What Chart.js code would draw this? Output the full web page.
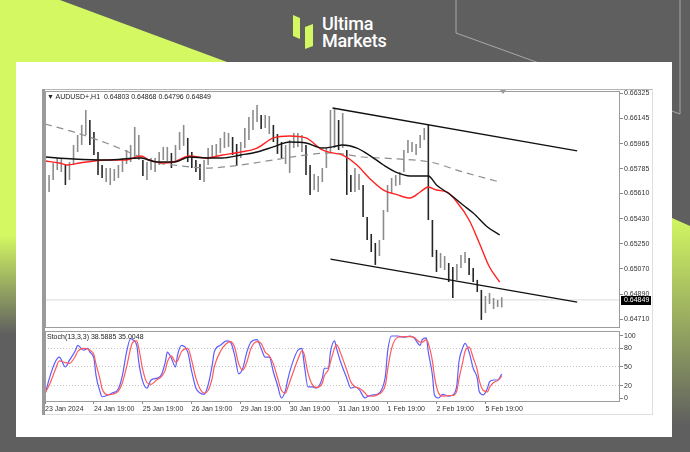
<!DOCTYPE html>
<html>
<head>
<meta charset="utf-8">
<script src="https://cdn.jsdelivr.net/npm/chart.js@4.4.1/dist/chart.umd.min.js"></script>
<style>
html, body { margin: 0; padding: 0; }
body { width: 690px; height: 452px; position: relative; overflow: hidden; background: #5f5f5f; font-family: "Liberation Sans", Arial, sans-serif; }
#bg { position: absolute; left: 0; top: 0; }
#card { position: absolute; left: 16px; top: 62px; width: 656px; height: 375px; background: #fff; }
.logo { position: absolute; left: 322px; color: #fff; font-family: Roboto, "Open Sans", sans-serif; font-weight: 500; font-size: 18px; line-height: 18px; letter-spacing: -0.2px; }
#mtframe { position: absolute; left: 42px; top: 89px; width: 611px; height: 326px; border: 1px solid #dedede; border-top-color: #b5b5b5; box-sizing: border-box; }
#mtleft { position: absolute; left: 42px; top: 89px; width: 3px; height: 326px; background: #9a9a9a; }
canvas { position: absolute; }
#main { left: 45px; top: 84px; }
#stoch { left: 45px; top: 331px; }
.hdr { position: absolute; left: 47px; font-size: 7px; line-height: 8px; color: #222; white-space: pre; }
#shift { position: absolute; left: 500px; top: 90px; width: 0; height: 0; border-left: 3px solid transparent; border-right: 3px solid transparent; border-top: 4px solid #9a9a9a; }
</style>
</head>
<body>
<svg id="bg" width="690" height="452">
  <defs>
    <linearGradient id="gl" gradientUnits="userSpaceOnUse" x1="0" y1="0" x2="0" y2="452">
      <stop offset="0.52" stop-color="#d3f862"/>
      <stop offset="0.74" stop-color="#5f5f5f"/>
    </linearGradient>
    <linearGradient id="gr" gradientUnits="userSpaceOnUse" x1="0" y1="215" x2="0" y2="425">
      <stop offset="0" stop-color="#d3f862"/>
      <stop offset="1" stop-color="#5f5f5f"/>
    </linearGradient>
  </defs>
  <polygon points="0,0 60,0 300,89 300,452 0,452" fill="url(#gl)"/>
  <polygon points="600,186 690,226 690,452 600,452" fill="url(#gr)"/>
  <polyline points="456,0 456,33 680,114 680,0" fill="none" stroke="#a9a9a9" stroke-width="1"/>
  <polygon points="293,15 300,18 300,39 293,36" fill="#d3f862"/>
  <polygon points="305,27 313,24 313,46 305,49" fill="#d3f862"/>
</svg>
<div class="logo" style="top:15px">Ultima</div>
<div class="logo" style="top:32px">Markets</div>
<div id="card"></div>
<div id="mtframe"></div>
<div id="mtleft"></div>
<canvas id="main" width="620" height="244"></canvas>
<canvas id="stoch" width="620" height="84"></canvas>
<div class="hdr" style="top:93px">▼ AUDUSD+,H1  0.64803 0.64868 0.64796 0.64849</div>
<div class="hdr" style="top:333px">Stoch(13,3,3) 38.5885 35.0048</div>
<div id="shift"></div>
<script>
// H1 bars, one sample every 2 bars (bar index = i * barStep)
const barStep = 2;
const barHighs = [
  0.65649, 0.65741, 0.65827, 0.65863, 0.65863, 0.65813, 0.65834, 0.65956, 0.66027, 0.66099,
  0.66206, 0.66134, 0.66049, 0.65906, 0.65813, 0.65791, 0.65791, 0.65784, 0.65813, 0.65863,
  0.65920, 0.65956, 0.66084, 0.66027, 0.65849, 0.65834, 0.65863, 0.65863, 0.65906, 0.65942,
  0.65942, 0.65899, 0.65956, 0.66049, 0.66099, 0.66006, 0.65906, 0.65849, 0.65820, 0.65849,
  0.65934, 0.65956, 0.65963, 0.66006, 0.66049, 0.66042, 0.66013, 0.65963, 0.65977, 0.66077,
  0.66156, 0.66206, 0.66241, 0.66170, 0.66170, 0.66163, 0.66099, 0.66034, 0.65977, 0.65956,
  0.65992, 0.66042, 0.66042, 0.66027, 0.65956, 0.65813, 0.65749, 0.65734, 0.65791, 0.65934,
  0.66206, 0.66220, 0.66134, 0.66184, 0.65920, 0.65741, 0.65791, 0.65749, 0.65670, 0.65442,
  0.65320, 0.65256, 0.65277, 0.65491, 0.65670, 0.65720, 0.65741, 0.65763, 0.65920, 0.65992,
  0.65977, 0.65963, 0.66027, 0.66077, 0.66099, 0.65420, 0.65206, 0.65184, 0.65163, 0.65113,
  0.65084, 0.65106, 0.65170, 0.65191, 0.65149, 0.65077, 0.64992, 0.64920, 0.64877, 0.64899,
  0.64863, 0.64849, 0.64868
];
const barLows = [
  0.65506, 0.65620, 0.65706, 0.65777, 0.65763, 0.65670, 0.65706, 0.65813, 0.65906, 0.65956,
  0.66027, 0.65956, 0.65884, 0.65741, 0.65720, 0.65691, 0.65670, 0.65699, 0.65720, 0.65763,
  0.65820, 0.65834, 0.65863, 0.65849, 0.65734, 0.65706, 0.65777, 0.65763, 0.65813, 0.65849,
  0.65842, 0.65791, 0.65834, 0.65920, 0.65949, 0.65834, 0.65791, 0.65763, 0.65706, 0.65691,
  0.65813, 0.65863, 0.65870, 0.65899, 0.65934, 0.65942, 0.65884, 0.65806, 0.65863, 0.65934,
  0.65992, 0.66063, 0.66120, 0.66070, 0.66077, 0.66034, 0.65977, 0.65892, 0.65863, 0.65820,
  0.65756, 0.65934, 0.65942, 0.65906, 0.65741, 0.65599, 0.65634, 0.65620, 0.65691, 0.65791,
  0.65906, 0.65934, 0.65920, 0.65934, 0.65599, 0.65620, 0.65620, 0.65634, 0.65442, 0.65277,
  0.65191, 0.65099, 0.65163, 0.65277, 0.65477, 0.65613, 0.65663, 0.65670, 0.65763, 0.65899,
  0.65906, 0.65884, 0.65934, 0.65992, 0.65420, 0.65156, 0.65049, 0.65077, 0.65063, 0.64977,
  0.64863, 0.64992, 0.65077, 0.65113, 0.65027, 0.64977, 0.64906, 0.64706, 0.64756, 0.64820,
  0.64784, 0.64799, 0.64796
];
const lastClose = 0.64849;

// moving averages (bar index, price)
const maRedBars = [0, 7, 11, 17, 30, 40, 47, 51, 58, 63, 71, 79, 87, 96, 104, 112, 120, 128, 136, 141, 146, 153, 159, 166, 173, 179, 184, 188, 192, 197, 202, 208, 213, 218, 223];
const maRed = [0.65841, 0.65827, 0.65813, 0.65827, 0.65849, 0.65849, 0.65877, 0.65849, 0.65827, 0.65834, 0.65877, 0.65863, 0.65884, 0.65906, 0.65934, 0.66006, 0.66020, 0.66006, 0.65920, 0.65899, 0.65884, 0.65813, 0.65720, 0.65634, 0.65599, 0.65577, 0.65620, 0.65656, 0.65634, 0.65620, 0.65549, 0.65420, 0.65256, 0.65084, 0.64977];
const maBlackBars = [0, 14, 30, 47, 55, 63, 71, 79, 87, 96, 104, 112, 120, 128, 136, 141, 146, 153, 159, 166, 173, 179, 188, 192, 199, 205, 210, 217, 223];
const maBlack = [0.65870, 0.65856, 0.65849, 0.65863, 0.65834, 0.65834, 0.65870, 0.65863, 0.65863, 0.65884, 0.65906, 0.65942, 0.65977, 0.65970, 0.65934, 0.65942, 0.65956, 0.65934, 0.65884, 0.65813, 0.65756, 0.65734, 0.65734, 0.65670, 0.65599, 0.65527, 0.65470, 0.65370, 0.65313];
const maGreyBars = [0, 14, 30, 42, 55, 63, 79, 96, 112, 128, 140, 156, 173, 189, 205, 223];
const maGrey = [0.66106, 0.66049, 0.65970, 0.65899, 0.65827, 0.65813, 0.65791, 0.65813, 0.65849, 0.65884, 0.65899, 0.65870, 0.65856, 0.65834, 0.65763, 0.65691];

// channel lines
const upperLineBars = [141, 261];
const upperLine = [0.66220, 0.65913];
const lowerLineBars = [140, 261];
const lowerLine = [0.65141, 0.64834];

const priceTicks = [0.66325, 0.66145, 0.65965, 0.65785, 0.65610, 0.65430, 0.65250, 0.65070, 0.64890, 0.64710];

// stochastic (13,3,3)
const stochBars = [0, 2, 5, 7, 10, 12, 15, 16, 19, 21, 22, 24, 25, 27, 28, 31, 33, 36, 38, 40, 42, 43, 45, 46, 48, 50, 52, 55, 57, 59, 60, 62, 64, 65, 67, 70, 72, 74, 76, 78, 80, 82, 83, 86, 89, 91, 93, 95, 97, 99, 101, 104, 106, 108, 110, 112, 114, 116, 118, 119, 121, 124, 126, 127, 129, 131, 133, 136, 137, 139, 140, 142, 143, 145, 148, 150, 152, 154, 157, 158, 161, 163, 165, 167, 168, 170, 173, 176, 179, 181, 184, 185, 187, 188, 190, 191, 193, 195, 198, 200, 202, 203, 205, 206, 208, 210, 212, 213, 215, 217, 218, 220, 222, 224];
const stochK = [5, 30, 58, 66, 50, 61, 77, 85, 77, 80, 74, 64, 37, 10, 2, 5, 8, 15, 37, 74, 96, 94, 85, 58, 26, 16, 29, 32, 37, 58, 74, 64, 50, 69, 85, 74, 42, 16, 8, 6, 21, 53, 74, 85, 92, 90, 69, 39, 48, 74, 90, 94, 80, 66, 66, 42, 21, 0, 13, 29, 53, 77, 80, 58, 18, 18, 16, 32, 48, 48, 74, 92, 80, 58, 32, 16, 18, 14, 0, 2, 5, 6, 13, 37, 74, 100, 100, 98, 100, 97, 85, 94, 97, 74, 37, 5, 0, 6, 3, 5, 21, 58, 82, 88, 74, 48, 32, 10, 5, 16, 26, 29, 29, 38.59];
const stochD = [8, 20, 45, 60, 57, 56, 68, 75, 80, 79, 77, 70, 55, 30, 15, 5, 6, 11, 25, 50, 80, 90, 92, 80, 45, 25, 22, 30, 34, 45, 58, 68, 58, 60, 75, 80, 60, 32, 15, 8, 12, 32, 50, 75, 88, 91, 82, 55, 45, 58, 80, 91, 88, 74, 68, 55, 33, 12, 8, 16, 35, 62, 76, 72, 40, 22, 17, 24, 36, 46, 58, 80, 86, 72, 45, 26, 18, 16, 8, 4, 3, 5, 9, 22, 45, 80, 98, 99, 99, 98, 90, 90, 94, 88, 60, 35, 8, 3, 4, 4, 12, 30, 60, 75, 82, 65, 45, 28, 12, 10, 17, 25, 28, 35.00];
const stochTicks = [0, 20, 50, 80, 100];
const stochLevels = [20, 50, 80];

const dayTickBars = [0, 24, 48, 72, 96, 120, 144, 168, 192, 216];
const dayLabels = ['23 Jan 2024', '24 Jan 19:00', '25 Jan 19:00', '26 Jan 19:00', '29 Jan 19:00', '30 Jan 19:00', '31 Jan 19:00', '1 Feb 19:00', '2 Feb 19:00', '5 Feb 19:00'];

Chart.defaults.font.family = '"Liberation Sans", Arial, sans-serif';
const tickFont = { size: 7 };

const pts = (bars, vals) => bars.map((b, i) => ({ x: b, y: vals[i] }));

const candles = barHighs.map((h, i) => ({ x: i * barStep, y: [barLows[i], h] }));
const candleColors = barHighs.map((h, i) => {
  if (i === 0) return '#8c8c8c';
  const mid = (h + barLows[i]) / 2;
  const prev = (barHighs[i - 1] + barLows[i - 1]) / 2;
  return mid < prev - 0.0004 ? '#262626' : '#8c8c8c';
});

// no label overflow padding: keep the plot area exactly where the canvas says
function noPad(s) {
  s.paddingTop = 0;
  s.paddingBottom = 0;
  s.paddingLeft = 0;
  s.paddingRight = 0;
}

const framePlugin = {
  id: 'frame',
  afterDraw(chart) {
    const a = chart.chartArea, c = chart.ctx;
    c.save();
    c.strokeStyle = '#9c9c9c';
    c.lineWidth = 1;
    c.strokeRect(a.left + 0.5, a.top + 0.5, a.right - a.left - 1, a.bottom - a.top - 1);
    c.restore();
  }
};

const priceBoxPlugin = {
  id: 'priceBox',
  afterDraw(chart) {
    const y = Math.round(chart.scales.y.getPixelForValue(lastClose));
    const x = chart.chartArea.right + 1;
    const c = chart.ctx;
    c.save();
    c.fillStyle = '#000';
    c.fillRect(x, y - 4, 30, 9);
    c.fillStyle = '#fff';
    c.font = '7px "Liberation Sans"';
    c.textBaseline = 'middle';
    c.fillText(lastClose.toFixed(5), x + 3, y + 0.5);
    c.restore();
  }
};

new Chart(document.getElementById('main'), {
  type: 'bar',
  data: {
    datasets: [
      { type: 'line', data: [{ x: 0, y: lastClose }, { x: 282, y: lastClose }], borderColor: '#dadada', borderWidth: 1, pointRadius: 0, order: 9 },
      { type: 'bar', data: candles, backgroundColor: candleColors, barThickness: 1.6, inflateAmount: 0, order: 5 },
      { type: 'line', data: pts(maGreyBars, maGrey), borderColor: '#8e8e8e', borderWidth: 1.2, borderDash: [7, 5], pointRadius: 0, cubicInterpolationMode: 'monotone', order: 3 },
      { type: 'line', data: pts(maBlackBars, maBlack), borderColor: '#111', borderWidth: 1.4, pointRadius: 0, cubicInterpolationMode: 'monotone', order: 2 },
      { type: 'line', data: pts(maRedBars, maRed), borderColor: '#f22', borderWidth: 1.4, pointRadius: 0, cubicInterpolationMode: 'monotone', order: 2 },
      { type: 'line', data: pts(upperLineBars, upperLine), borderColor: '#111', borderWidth: 1.3, pointRadius: 0, order: 1 },
      { type: 'line', data: pts(lowerLineBars, lowerLine), borderColor: '#111', borderWidth: 1.3, pointRadius: 0, order: 1 }
    ]
  },
  options: {
    responsive: false,
    animation: false,
    devicePixelRatio: 1,
    layout: { padding: { top: 7, bottom: 0, left: 0, right: 0 }, autoPadding: false },
    plugins: { legend: { display: false }, tooltip: { enabled: false } },
    scales: {
      x: { type: 'linear', min: 0, max: 282, offset: false, display: false, grid: { offset: false } },
      y: {
        position: 'right',
        min: 0.646485,
        max: 0.663414,
        afterFit(s) { s.width = 45; noPad(s); },
        afterBuildTicks(s) { s.ticks = priceTicks.map(v => ({ value: v })); },
        ticks: { callback: v => v.toFixed(5), font: tickFont, color: '#333', padding: 1, autoSkip: false },
        grid: { drawOnChartArea: false, tickLength: 3, color: '#888' },
        border: { display: false }
      }
    }
  },
  plugins: [framePlugin, priceBoxPlugin]
});

new Chart(document.getElementById('stoch'), {
  type: 'line',
  data: {
    datasets: [
      { data: pts(stochBars, stochD), borderColor: '#ff5a5a', borderWidth: 1.2, pointRadius: 0, cubicInterpolationMode: 'monotone' },
      { data: pts(stochBars, stochK), borderColor: '#5d5dff', borderWidth: 1.2, pointRadius: 0, cubicInterpolationMode: 'monotone' }
    ]
  },
  options: {
    responsive: false,
    animation: false,
    devicePixelRatio: 1,
    layout: { padding: 0, autoPadding: false },
    plugins: { legend: { display: false }, tooltip: { enabled: false } },
    scales: {
      x: {
        type: 'linear',
        min: 0,
        max: 282,
        afterFit(s) { s.height = 13; noPad(s); },
        afterBuildTicks(s) { s.ticks = dayTickBars.map(v => ({ value: v })); },
        ticks: { callback: (v, i) => dayLabels[i], align: 'start', maxRotation: 0, autoSkip: false, font: tickFont, color: '#333', padding: 1 },
        grid: { drawOnChartArea: false, tickLength: 2, color: '#888' },
        border: { display: false }
      },
      y: {
        position: 'right',
        min: -6.45,
        max: 108.06,
        afterFit(s) { s.width = 45; noPad(s); },
        afterBuildTicks(s) { s.ticks = stochTicks.map(v => ({ value: v })); },
        ticks: { font: tickFont, color: '#333', padding: 1, autoSkip: false },
        grid: {
          color: ctx => (ctx.tick && stochLevels.includes(ctx.tick.value)) ? '#c4c4c4' : 'rgba(0,0,0,0)',
          tickColor: '#888',
          tickLength: 3
        },
        border: { display: false, dash: [1, 2] }
      }
    }
  },
  plugins: [framePlugin]
});
</script>
</body>
</html>
